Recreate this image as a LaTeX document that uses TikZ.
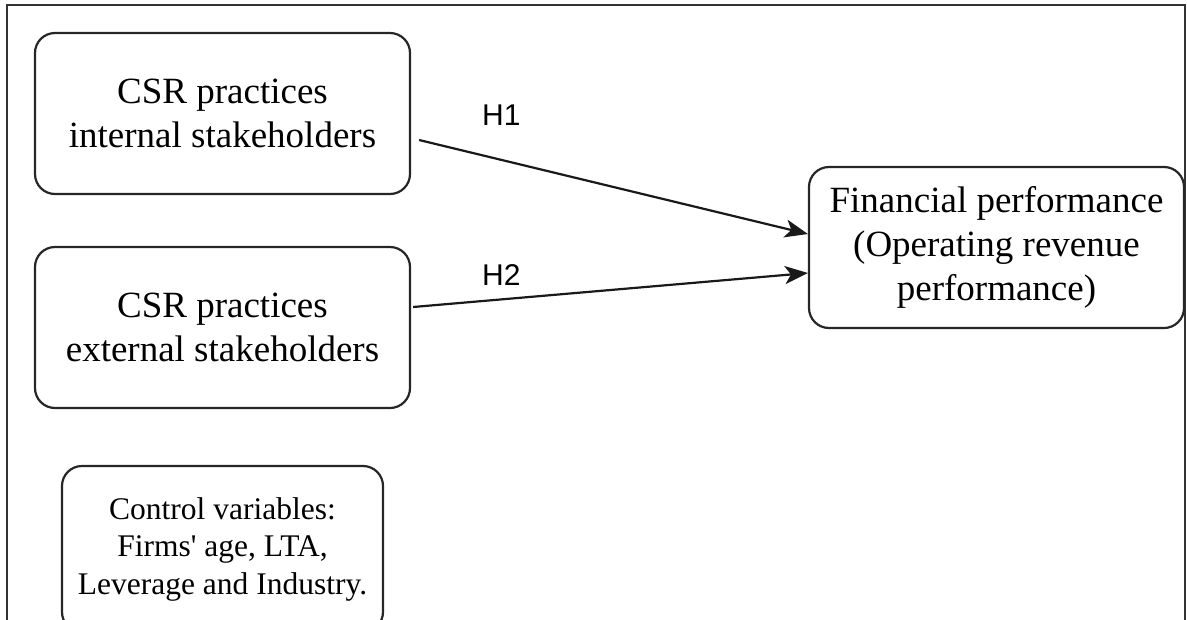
\documentclass[tikz,border=0pt]{standalone}
\usepackage{fontspec}
\setmainfont{Liberation Serif}[Ligatures=TeXOff]
\newfontfamily\labelfont{Liberation Sans}
\usetikzlibrary{arrows.meta,calc}

\tikzset{
  varbox/.style={draw=black!85, line width=2.2pt, rounded corners=20pt,
    inner sep=0pt, align=center, font=\fontsize{37}{44}\selectfont},
  ctrlbox/.style={varbox, font=\fontsize{31.5}{37.5}\selectfont},
  hyplabel/.style={inner sep=0pt, anchor=base west, font=\labelfont\fontsize{30}{36}\selectfont},
  link/.style={draw=black!90, line width=2.2pt,
    -{Stealth[length=23pt,width=18pt,inset=6pt]}},
  frame/.style={draw=black!80, line width=2.8pt}
}

\begin{document}
\begin{tikzpicture}[x=1pt,y=-1pt]
  \useasboundingbox (0,0) rectangle (1187,619);
  \clip (0,0) rectangle (1187,619);

  % outer frame, open at the bottom
  \draw[frame] (7,640) -- (7,5) -- (1185,5) -- (1185,640);

  % variables
  \node[varbox, minimum width=375pt, minimum height=161pt] (int) at (222.5,113.5)
    {CSR practices\\internal stakeholders};
  \node[varbox, minimum width=375pt, minimum height=161pt] (ext) at (222.5,327.5)
    {CSR practices\\external stakeholders};
  \node[ctrlbox, minimum width=321pt, minimum height=166pt] (ctrl) at (222.5,549)
    {Control variables:\\Firms' age, LTA,\\Leverage and Industry.};
  \node[varbox, minimum width=375pt, minimum height=161pt] (fin) at (996.5,247.5)
    {Financial performance\\(Operating revenue\\performance)};

  % hypotheses
  \draw[link] ([xshift=8pt,yshift=-26.5pt]int.east) -- ([yshift=13.5pt]fin.west);
  \draw[link] ([xshift=2pt,yshift=20.5pt]ext.east) -- ([yshift=-25.5pt]fin.west);

  \node[hyplabel] (h1) at (482,125) {H1};
  \node[hyplabel] (h2) at (482,285) {H2};
\end{tikzpicture}
\end{document}
